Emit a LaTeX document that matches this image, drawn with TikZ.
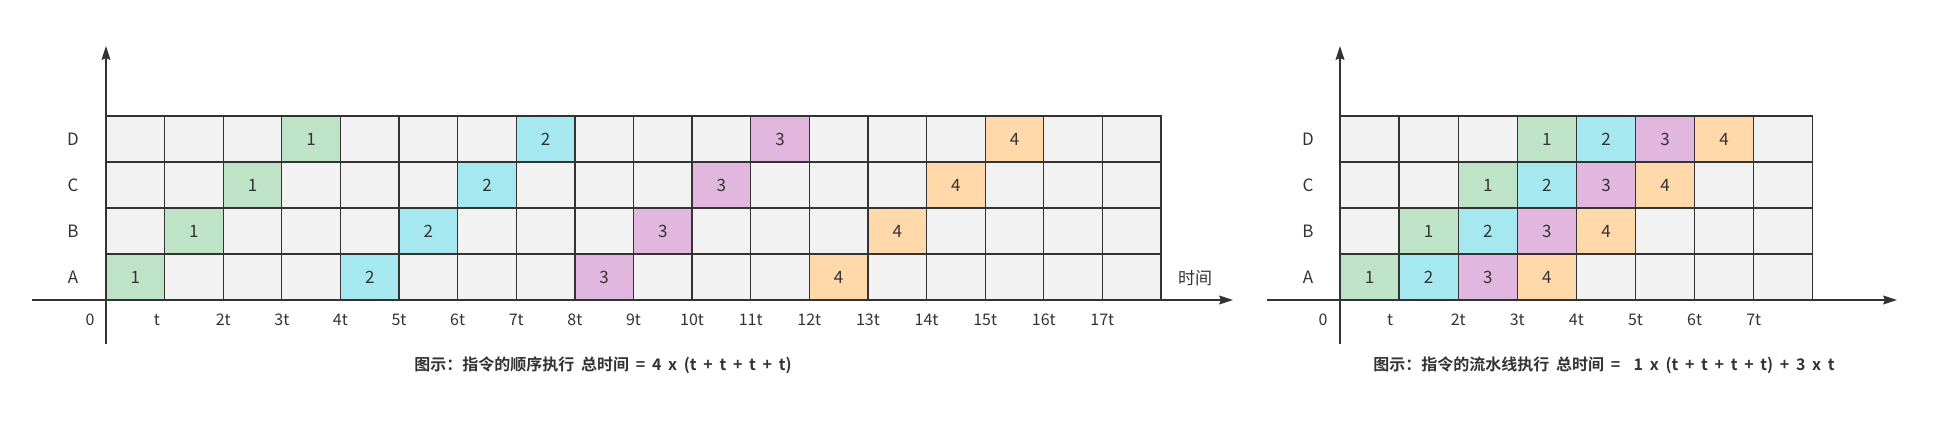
\documentclass[tikz,border=0pt]{standalone}
\usepackage{fontspec}
\setmainfont{Noto Sans CJK SC}[BoldFont={Noto Sans CJK SC Bold}]
\usetikzlibrary{arrows.meta}
\definecolor{ins0}{HTML}{F2F2F2}
\definecolor{ins1}{HTML}{BFE3C6}
\definecolor{ins2}{HTML}{A6E8F0}
\definecolor{ins3}{HTML}{E1B7E0}
\definecolor{ins4}{HTML}{FFD9AA}
\definecolor{linec}{HTML}{333333}
\definecolor{textc}{HTML}{333333}
\newcommand\capspacing{\spaceskip=0.42em\relax}
\begin{document}
\begin{tikzpicture}[x=1pt,y=-1pt,
  cell/.style={draw=linec, line width=1.3pt, minimum width=#1, minimum height=46pt,
    inner sep=0pt, font=\fontsize{17}{20}\selectfont, text=textc},
  axis/.style={draw=linec, line width=1.1pt},
  axarrow/.style={axis, -{Stealth[length=14pt,width=9pt,inset=2pt]}},
  rowlbl/.style={font=\fontsize{17}{20}\selectfont, text=textc, inner sep=0pt},
  ticklbl/.style={font=\fontsize{16}{19}\selectfont, text=textc, inner sep=0pt},
  caption/.style={font=\fontsize{16}{19}\selectfont\bfseries, text=textc, inner sep=0pt}]
\useasboundingbox (0,0) rectangle (1951,423);
% ---------- left chart: sequential ----------
\foreach \r/\rn in {0/A,1/B,2/C,3/D} {
  \foreach \c in {0,...,17} {
    \pgfmathtruncatemacro{\dd}{\c-\r}
    \pgfmathtruncatemacro{\kk}{ifthenelse(and(and(\dd>=0,\dd<=12),mod(\dd,4)==0),\dd/4+1,0)}
    \ifnum\kk=0 \def\lbl{}\else \edef\lbl{\kk}\fi
    \node[cell=58.61pt, fill=ins\kk] (L\rn\c) at ({106+(\c+0.5)*58.61},{300-(\r+0.5)*46}) {\lbl};
  }
  \node[rowlbl] (Lrow\rn) at (73,{300-(\r+0.5)*46}) {\rn};
}
\coordinate (Lbot) at (106,344);
\coordinate (Ltop) at (106,46);
\coordinate (Lxs) at (32,300);
\coordinate (Lxe) at (1233,300);
\draw[axarrow] (Lbot) -- (Ltop);
\draw[axarrow] (Lxs) -- (Lxe);
\node[ticklbl] (L0) at (90,320) {0};
\node[ticklbl] (L1t) at (157,320) {t};
\foreach \k in {2,...,17} {
  \node[ticklbl] (L\k t) at ({106+\k*58.61},320) {\k t};
}
\node[font=\fontsize{17}{20}\selectfont, text=textc, inner sep=0pt] (Ltime) at (1195,278) {时间};
\node[caption] (Lcap) at (603,365) {\capspacing 图示：指令的顺序执行 总时间 = 4 x (t + t + t + t)};
% ---------- right chart: pipeline ----------
\foreach \r/\rn in {0/A,1/B,2/C,3/D} {
  \foreach \c in {0,...,7} {
    \pgfmathtruncatemacro{\dd}{\c-\r}
    \pgfmathtruncatemacro{\kk}{ifthenelse(and(\dd>=0,\dd<=3),\dd+1,0)}
    \ifnum\kk=0 \def\lbl{}\else \edef\lbl{\kk}\fi
    \node[cell=59.1pt, fill=ins\kk] (R\rn\c) at ({1340+(\c+0.5)*59.1},{300-(\r+0.5)*46}) {\lbl};
  }
  \node[rowlbl] (Rrow\rn) at (1308,{300-(\r+0.5)*46}) {\rn};
}
\coordinate (Rbot) at (1340,344);
\coordinate (Rtop) at (1340,46);
\coordinate (Rxs) at (1267,300);
\coordinate (Rxe) at (1897,300);
\draw[axarrow] (Rbot) -- (Rtop);
\draw[axarrow] (Rxs) -- (Rxe);
\node[ticklbl] (R0) at (1323,320) {0};
\node[ticklbl] (R1t) at (1390,320) {t};
\foreach \k in {2,...,7} {
  \node[ticklbl] (R\k t) at ({1340+\k*59.1},320) {\k t};
}
\node[caption] (Rcap) at (1604,365) {\capspacing 图示：指令的流水线执行 总时间 =\ \ 1 x (t + t + t + t) + 3 x t};
\end{tikzpicture}
\end{document}
